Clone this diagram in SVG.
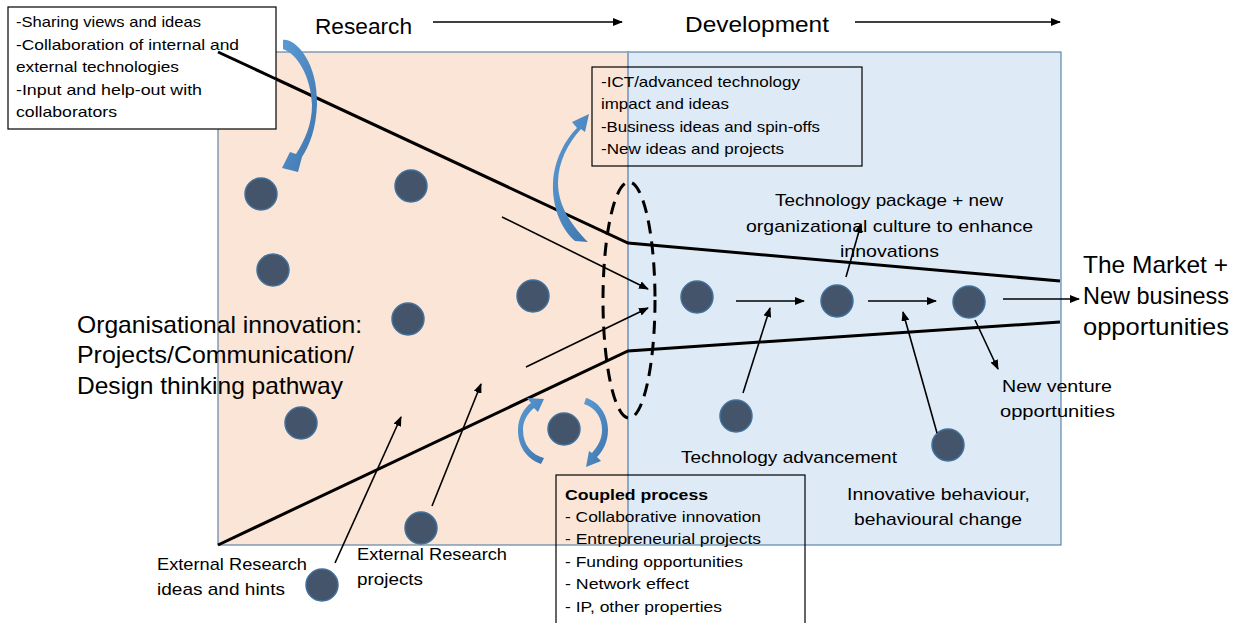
<svg xmlns="http://www.w3.org/2000/svg" width="1245" height="623" viewBox="0 0 1245 623">
<defs>
<style>
text{font-family:"Liberation Sans",Arial,sans-serif;fill:#000}
.t15{font-size:15px}
.t16{font-size:17px}
.t23{font-size:24px}
.node{fill:#44546a;stroke:#41719c;stroke-width:1.5}
.funnel{stroke:#000;stroke-width:3;fill:none}
.arr{stroke:#000;stroke-width:1.6;fill:none;marker-end:url(#ah)}
.box{fill:none;stroke:#000;stroke-width:1.2}
.blue{fill:url(#bg)}
</style>
<marker id="ah" markerUnits="userSpaceOnUse" markerWidth="10" markerHeight="8" refX="9" refY="4" orient="auto">
<path d="M0,0 L10,4 L0,8 Z" fill="#000"/>
</marker>
<linearGradient id="bg" x1="0" y1="0" x2="1" y2="1">
<stop offset="0" stop-color="#5b9bd5"/>
<stop offset="1" stop-color="#3f75ad"/>
</linearGradient>
</defs>
<rect id="research-area" x="218" y="52" width="410" height="493" fill="#fbe5d6" stroke="#41719c" stroke-width="1"/>
<rect id="development-area" x="628" y="52" width="433" height="493" fill="#deebf7" stroke="#41719c" stroke-width="1"/>
<line x1="628" y1="52" x2="628" y2="545" stroke="#8aa8cc" stroke-width="2"/>
<g id="header">
<text x="315" y="34" style="font-size:22px" textLength="97" lengthAdjust="spacingAndGlyphs">Research</text>
<line x1="433" y1="22" x2="622" y2="22" class="arr"/>
<text x="685" y="32" style="font-size:22px" textLength="144" lengthAdjust="spacingAndGlyphs">Development</text>
<line x1="855" y1="22" x2="1060" y2="22" class="arr"/>
</g>
<g id="funnel">
<polyline class="funnel" points="218,52 628,243 1060,281"/>
<polyline class="funnel" points="218,545 628,351 1060,322"/>
</g>
<g id="coupling-ellipse">
<ellipse cx="629" cy="300" rx="26" ry="118" fill="none" stroke="#000" stroke-width="3" stroke-dasharray="13,8"/>
</g>
<g id="nodes">
<circle id="n1" class="node" cx="261" cy="194" r="16"/>
<circle id="n2" class="node" cx="411" cy="186" r="16"/>
<circle id="n3" class="node" cx="273" cy="270" r="16"/>
<circle id="n4" class="node" cx="408" cy="319" r="16"/>
<circle id="n5" class="node" cx="533" cy="296" r="16"/>
<circle id="n6" class="node" cx="301" cy="423" r="16"/>
<circle id="n7" class="node" cx="564" cy="429" r="16"/>
<circle id="n8" class="node" cx="421" cy="528" r="16"/>
<circle id="n9" class="node" cx="322" cy="585" r="16"/>
<circle id="n10" class="node" cx="697" cy="297" r="16"/>
<circle id="n11" class="node" cx="837" cy="301" r="16"/>
<circle id="n12" class="node" cx="969" cy="302" r="16"/>
<circle id="n13" class="node" cx="736" cy="416" r="16"/>
<circle id="n14" class="node" cx="948" cy="445" r="16"/>
</g>
<g id="connectors">
<line class="arr" x1="502" y1="217" x2="648" y2="289"/>
<line class="arr" x1="526" y1="367" x2="648" y2="308"/>
<line class="arr" x1="736" y1="301" x2="804" y2="301"/>
<line class="arr" x1="868" y1="301" x2="936" y2="301"/>
<line class="arr" x1="1003" y1="299" x2="1079" y2="299"/>
<line class="arr" x1="743" y1="393" x2="770" y2="308"/>
<line class="arr" x1="937" y1="433" x2="903" y2="312"/>
<line class="arr" x1="975" y1="320" x2="998" y2="369"/>
<line class="arr" x1="846" y1="277" x2="861" y2="224"/>
<line class="arr" x1="335" y1="563" x2="401" y2="417"/>
<line class="arr" x1="432" y1="506" x2="481" y2="384"/>
</g>
<g id="cycle-arrows">
<path class="blue" d="M283,40 C294,38 318,60 317,105 C316,128 310,145 302,157 L298,172 L282,168 L290,152 L296,154 C305,140 312,124 312,105 C311,76 297,54 283,49 Z"/>
<path class="blue" d="M575,241 C560,228 552,205 553,183 C554,160 565,140 577,128 L572,122 L589,114 L585,132 L581,129 C568,143 558,162 558,183 C558,206 572,226 588,242 Z"/>
<path class="blue" d="M541,464 C525,458 518,445 518,430 C518,418 524,408 531,403 L527,398 L544,399 L538,412 L534,408 C527,414 523,421 523,430 C523,445 532,455 544,458 Z"/>
<path class="blue" d="M586,398 C600,402 608,416 608,430 C608,443 602,452 597,457 L601,461 L586,467 L589,451 L592,453 C598,446 602,439 602,430 C602,418 596,408 584,404 Z"/>
</g>
<g id="box-collaboration">
<rect class="box" x="8" y="7" width="268" height="122" style="fill:#fff"/>
<text class="t15" x="16" y="27" textLength="185" lengthAdjust="spacingAndGlyphs">-Sharing views and ideas</text>
<text class="t15" x="16" y="50" textLength="223" lengthAdjust="spacingAndGlyphs">-Collaboration of internal and</text>
<text class="t15" x="16" y="72" textLength="163" lengthAdjust="spacingAndGlyphs">external technologies</text>
<text class="t15" x="16" y="95" textLength="186" lengthAdjust="spacingAndGlyphs">-Input and help-out with</text>
<text class="t15" x="16" y="117" textLength="101" lengthAdjust="spacingAndGlyphs">collaborators</text>
</g>
<line x1="218" y1="52" x2="276" y2="79" class="funnel"/>
<g id="box-ict">
<rect class="box" x="592" y="67" width="270" height="99"/>
<text class="t15" x="601" y="87" textLength="199" lengthAdjust="spacingAndGlyphs">-ICT/advanced technology</text>
<text class="t15" x="601" y="109" textLength="128" lengthAdjust="spacingAndGlyphs">impact and ideas</text>
<text class="t15" x="601" y="132" textLength="219" lengthAdjust="spacingAndGlyphs">-Business ideas and spin-offs</text>
<text class="t15" x="601" y="154" textLength="183" lengthAdjust="spacingAndGlyphs">-New ideas and projects</text>
</g>
<g id="box-coupled">
<rect class="box" x="556" y="475" width="249" height="150"/>
<text class="t15" x="565" y="500" font-weight="bold" textLength="143" lengthAdjust="spacingAndGlyphs">Coupled process</text>
<text class="t15" x="565" y="522" textLength="196" lengthAdjust="spacingAndGlyphs">- Collaborative innovation</text>
<text class="t15" x="565" y="544" textLength="196" lengthAdjust="spacingAndGlyphs">- Entrepreneurial projects</text>
<text class="t15" x="565" y="567" textLength="178" lengthAdjust="spacingAndGlyphs">- Funding opportunities</text>
<text class="t15" x="565" y="589" textLength="124" lengthAdjust="spacingAndGlyphs">- Network effect</text>
<text class="t15" x="565" y="612" textLength="157" lengthAdjust="spacingAndGlyphs">- IP, other properties</text>
</g>
<g id="label-org">
<text class="t23" x="77" y="333" textLength="285" lengthAdjust="spacingAndGlyphs">Organisational innovation:</text>
<text class="t23" x="77" y="363" textLength="277" lengthAdjust="spacingAndGlyphs">Projects/Communication/</text>
<text class="t23" x="77" y="394" textLength="266" lengthAdjust="spacingAndGlyphs">Design thinking pathway</text>
</g>
<g id="label-techpkg">
<text class="t16" x="775" y="206" textLength="228" lengthAdjust="spacingAndGlyphs">Technology package + new</text>
<text class="t16" x="746" y="232" textLength="287" lengthAdjust="spacingAndGlyphs">organizational culture to enhance</text>
<text class="t16" x="840" y="257" textLength="99" lengthAdjust="spacingAndGlyphs">innovations</text>
</g>
<g id="label-market">
<text class="t23" x="1083" y="273" textLength="145" lengthAdjust="spacingAndGlyphs">The Market +</text>
<text class="t23" x="1083" y="304" textLength="146" lengthAdjust="spacingAndGlyphs">New business</text>
<text class="t23" x="1083" y="335" textLength="146" lengthAdjust="spacingAndGlyphs">opportunities</text>
</g>
<g id="label-venture">
<text class="t16" x="1002" y="392" textLength="110" lengthAdjust="spacingAndGlyphs">New venture</text>
<text class="t16" x="1000" y="417" textLength="115" lengthAdjust="spacingAndGlyphs">opportunities</text>
</g>
<g id="label-techadv">
<text class="t16" x="681" y="463" textLength="216" lengthAdjust="spacingAndGlyphs">Technology advancement</text>
</g>
<g id="label-innov">
<text class="t16" x="847" y="500" textLength="183" lengthAdjust="spacingAndGlyphs">Innovative behaviour,</text>
<text class="t16" x="854" y="525" textLength="168" lengthAdjust="spacingAndGlyphs">behavioural change</text>
</g>
<g id="label-ext-ideas">
<text class="t16" x="157" y="570" textLength="150" lengthAdjust="spacingAndGlyphs">External Research</text>
<text class="t16" x="157" y="595" textLength="128" lengthAdjust="spacingAndGlyphs">ideas and hints</text>
</g>
<g id="label-ext-projects">
<text class="t16" x="357" y="560" textLength="150" lengthAdjust="spacingAndGlyphs">External Research</text>
<text class="t16" x="357" y="585" textLength="66" lengthAdjust="spacingAndGlyphs">projects</text>
</g>
</svg>
